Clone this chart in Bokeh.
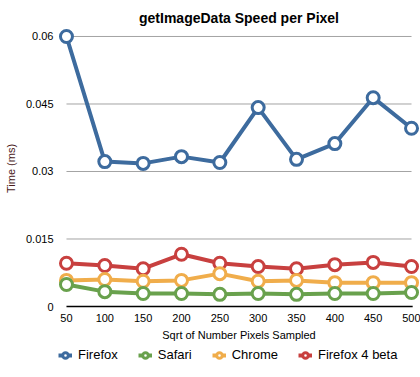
from bokeh.plotting import figure
from bokeh.layouts import column
from bokeh.models import (Range1d, FixedTicker, CustomJSTickFormatter, Legend, LegendItem)
from bokeh.embed import file_html
from bokeh.resources import INLINE

# ---- data ----
sizes = [50, 100, 150, 200, 250, 300, 350, 400, 450, 500]
firefox = [0.0600, 0.0322, 0.0318, 0.0333, 0.0320, 0.0442, 0.0327, 0.0362, 0.0464, 0.0396]
safari = [0.0049, 0.0033, 0.0029, 0.0029, 0.0027, 0.0029, 0.0027, 0.0029, 0.0029, 0.0031]
chrome = [0.0058, 0.0060, 0.0056, 0.0058, 0.0073, 0.0056, 0.0058, 0.0053, 0.0053, 0.0053]
firefox4 = [0.0096, 0.0091, 0.0084, 0.0116, 0.0096, 0.0089, 0.0084, 0.0093, 0.0098, 0.0089]
series_names = ["Firefox", "Safari", "Chrome", "Firefox 4 beta"]
series_colors = ["#3d6b9e", "#69a14d", "#f0ad4b", "#c8403f"]
y_ticks = [0, 0.015, 0.03, 0.045, 0.06]

FONT = "Liberation Sans"

p = figure(frame_width=361, frame_height=286, output_backend="svg", toolbar_location=None,
           x_range=Range1d(39.6, 510.4), y_range=Range1d(-0.00111, 0.06244),
           min_border_left=58, min_border_right=1, min_border_top=25, min_border_bottom=36,
           title="getImageData Speed per Pixel")
p.outline_line_color = None
p.background_fill_color = "white"
p.border_fill_color = "white"

p.title.align = "center"
p.title.text_font = FONT
p.title.text_font_size = "14px"
p.title.text_font_style = "bold"
p.title.text_color = "black"
p.title.offset = 0
p.title.standoff = 0

p.xgrid.visible = False
p.ygrid.visible = False

# gridlines spanning the data range
x_lo, x_hi = min(sizes), max(sizes)
grid_vals = [v for v in y_ticks if v != 0]
p.segment(x0=[x_lo] * len(grid_vals), x1=[x_hi] * len(grid_vals), y0=grid_vals, y1=grid_vals,
          line_color="#a3a3a3", line_width=1)
p.segment(x0=[x_lo], x1=[x_hi + 1.5], y0=[0], y1=[0], line_color="black", line_width=1.3)

# axes
for ax in (p.xaxis[0], p.yaxis[0]):
    ax.axis_line_color = None
    ax.major_tick_line_color = None
    ax.minor_tick_line_color = None
    ax.major_tick_out = 0
    ax.major_tick_in = 0
    ax.minor_tick_out = 0
    ax.minor_tick_in = 0
    ax.major_label_text_font = FONT
    ax.major_label_text_font_size = "11px"
    ax.major_label_text_color = "black"
    ax.axis_label_text_font = FONT
    ax.axis_label_text_font_size = "11px"
    ax.axis_label_text_font_style = "normal"

p.xaxis.ticker = FixedTicker(ticks=sizes)
p.xaxis.major_label_standoff = 2
p.xaxis.axis_label = "Sqrt of Number Pixels Sampled"
p.xaxis.axis_label_standoff = 4
p.xaxis.axis_label_text_color = "black"

p.yaxis.ticker = FixedTicker(ticks=y_ticks)
p.yaxis.formatter = CustomJSTickFormatter(code="return tick.toString();")
p.yaxis.major_label_standoff = 5
p.yaxis.axis_label = "Time (ms)"
p.yaxis.axis_label_standoff = 6
p.yaxis.axis_label_text_color = "#4a1a1a"

data = [firefox, safari, chrome, firefox4]
for name, col, ys in reversed(list(zip(series_names, series_colors, data))):
    p.line(sizes, ys, line_color=col, line_width=4)
    p.scatter(sizes, ys, marker="circle", size=12, fill_color="white",
              line_color=col, line_width=3)

# legend strip (separate figure below the chart; its renderers lie outside its view)
lf = figure(width=420, height=30, output_backend="svg", toolbar_location=None,
            x_range=Range1d(0, 1), y_range=Range1d(0, 1),
            x_axis_type=None, y_axis_type=None, min_border=0)
lf.outline_line_color = None
lf.xgrid.visible = False
lf.ygrid.visible = False
items = []
for name, col, ys in zip(series_names, series_colors, data):
    ln = lf.line(sizes, ys, line_color=col, line_width=4)
    sc = lf.scatter(sizes, ys, marker="circle", size=9, fill_color="white",
                    line_color=col, line_width=3)
    items.append(LegendItem(label=name, renderers=[ln, sc]))

legend = Legend(items=items, orientation="horizontal", location=(0, 15),
                label_text_font=FONT, label_text_font_size="13px", label_text_color="black",
                glyph_width=14, glyph_height=14, label_height=14, label_standoff=6, spacing=20,
                padding=0, margin=0, border_line_color=None, background_fill_alpha=0)
lf.add_layout(legend, "center")

layout = column(p, lf, spacing=0)
open("out.html", "w").write(file_html(layout, INLINE))
